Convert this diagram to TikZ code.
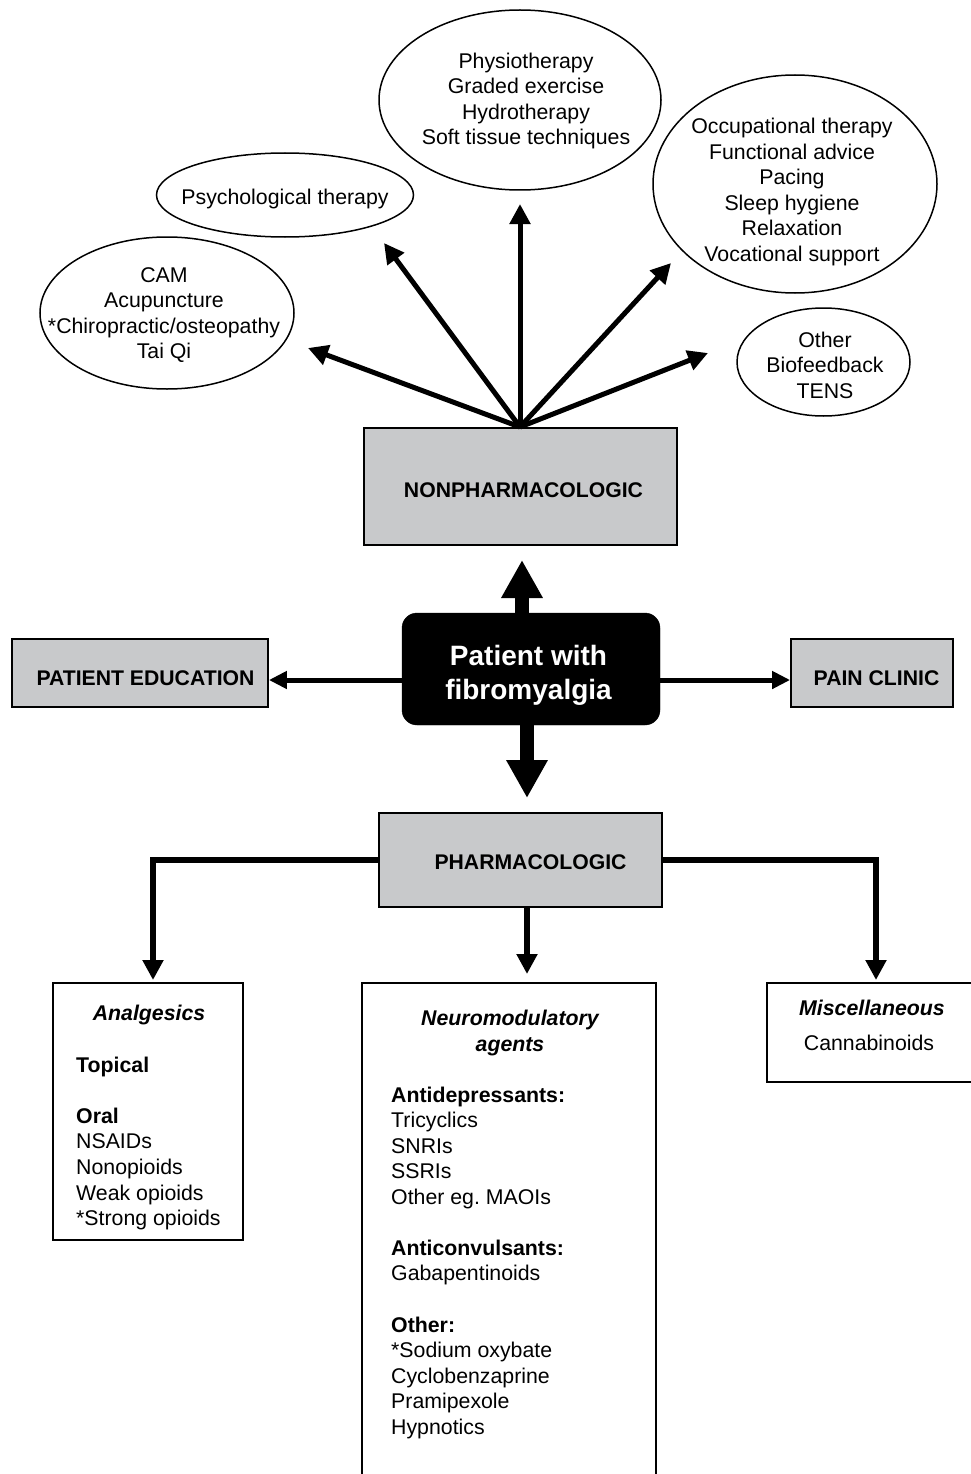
\documentclass[tikz,border=0pt]{standalone}
\usepackage{fontspec}
\setmainfont{Liberation Sans}
\usetikzlibrary{arrows.meta,shapes.geometric}
\definecolor{boxgray}{RGB}{200,201,203}
\newcommand\fsN{\fontsize{21.3}{25.6}\selectfont}
\newcommand\fsB{\fontsize{21.2}{24}\selectfont\bfseries}
\newcommand\fsC{\fontsize{28}{34}\selectfont\bfseries}
\begin{document}
\begin{tikzpicture}[x=1pt,y=-1pt,
  ell/.style={draw, line width=1.5pt, ellipse, inner sep=0pt},
  etext/.style={align=center, font=\fsN, inner sep=0pt},
  gbox/.style={draw, line width=1.8pt, fill=boxgray, inner sep=0pt},
  wbox/.style={draw, line width=1.8pt, inner sep=0pt},
  blabel/.style={inner sep=0pt, font=\fsB},
  lst/.style={anchor=base west, inner sep=0pt, font=\fsN},
  lstb/.style={anchor=base west, inner sep=0pt, font=\fsN\bfseries},
  ttl/.style={anchor=base, inner sep=0pt, font=\fsN\bfseries\itshape},
  fan/.style={line width=5pt, -{Triangle[length=20pt,width=20pt]}},
  side/.style={line width=5pt, -{Triangle[length=18pt,width=17pt]}},
  bigarrow/.style={line width=14pt, -{Triangle[length=38pt,width=39pt]}},
  tree/.style={line width=5.5pt, line join=miter, -{Triangle[length=20pt,width=20pt]}},
]
\useasboundingbox (0,0) rectangle (971,1474);
\fill[white] (0,0) rectangle (971,1474);

% ---------- ellipses ----------
\node[ell, minimum width=254pt, minimum height=152pt] (camE) at (167,313) {};
\node[etext] (cam) at (164,315) {CAM\\Acupuncture\\*Chiropractic/osteopathy\\Tai Qi};
\node[ell, minimum width=257pt, minimum height=84pt] (psychE) at (285,195) {};
\node[etext] (psych) at (285,199) {Psychological therapy};
\node[ell, minimum width=282pt, minimum height=180pt] (physioE) at (520,100) {};
\node[etext] (physio) at (526,101) {Physiotherapy\\Graded exercise\\Hydrotherapy\\Soft tissue techniques};
\node[ell, minimum width=284pt, minimum height=218pt] (occE) at (795,184) {};
\node[etext] (occ) at (792,192) {Occupational therapy\\Functional advice\\Pacing\\Sleep hygiene\\Relaxation\\Vocational support};
\node[ell, minimum width=173pt, minimum height=108pt] (otherE) at (823.5,362) {};
\node[etext] (other) at (825,365) {Other\\Biofeedback\\TENS};

% ---------- boxes ----------
\node[gbox, minimum width=313pt, minimum height=117pt] (nonpharm) at (520.5,486.5) {};
\node[blabel] (nonpharmT) at (523.5,490) {NONPHARMACOLOGIC};
\node[draw, fill=black, rounded corners=15pt, minimum width=258pt, minimum height=112pt, inner sep=0pt] (patient) at (531,669) {};
\node[align=center, text=white, font=\fsC, inner sep=0pt] (patientT) at (528.5,675) {Patient with\\fibromyalgia};
\node[gbox, minimum width=256pt, minimum height=68pt] (edu) at (140,673) {};
\node[blabel] (eduT) at (145.5,678) {PATIENT EDUCATION};
\node[gbox, minimum width=162pt, minimum height=68pt] (pain) at (872,673) {};
\node[blabel] (painT) at (876.5,678) {PAIN CLINIC};
\node[gbox, minimum width=283pt, minimum height=94pt] (pharm) at (520.5,860) {};
\node[blabel] (pharmT) at (530.5,862) {PHARMACOLOGIC};

\node[wbox, minimum width=190pt, minimum height=257pt] (anal) at (148,1111.5) {};
\node[wbox, minimum width=294pt, minimum height=520pt] (neuro) at (509,1243) {};
\node[wbox, minimum width=220pt, minimum height=99pt] (misc) at (877,1032.5) {};

% ---------- box texts ----------
\node[ttl] (analT) at (149,1020) {Analgesics};
\node[lstb] (a1) at (76,1072) {Topical};
\node[lstb] (a2) at (76,1123) {Oral};
\node[lst] (a3) at (76,1148) {NSAIDs};
\node[lst] (a4) at (76,1174) {Nonopioids};
\node[lst] (a5) at (76,1200) {Weak opioids};
\node[lst] (a6) at (76,1225) {*Strong opioids};

\node[ttl] (neuroT1) at (510,1025) {Neuromodulatory};
\node[ttl] (neuroT2) at (510,1051) {agents};
\node[lstb] (n1) at (391,1102) {Antidepressants:};
\node[lst] (n2) at (391,1127) {Tricyclics};
\node[lst] (n3) at (391,1153) {SNRIs};
\node[lst] (n4) at (391,1178) {SSRIs};
\node[lst] (n5) at (391,1204) {Other eg.\ MAOIs};
\node[lstb] (n6) at (391,1255) {Anticonvulsants:};
\node[lst] (n7) at (391,1280) {Gabapentinoids};
\node[lstb] (n8) at (391,1332) {Other:};
\node[lst] (n9) at (391,1357) {*Sodium oxybate};
\node[lst] (n10) at (391,1383) {Cyclobenzaprine};
\node[lst] (n11) at (391,1408) {Pramipexole};
\node[lst] (n12) at (391,1434) {Hypnotics};

\node[ttl] (miscT) at (872,1015) {Miscellaneous};
\node[anchor=base, inner sep=0pt, font=\fsN] (m1) at (869,1050) {Cannabinoids};

% ---------- fan arrows ----------
\coordinate (fanO) at (520,427);
\coordinate (tCam) at (308,348);
\coordinate (tPsych) at (384,243);
\coordinate (tPhys) at (520,204);
\coordinate (tOcc) at (671,263);
\coordinate (tOther) at (708,353);
\foreach \t in {tCam,tPsych,tPhys,tOcc,tOther}
  \draw[fan] (fanO) -- (\t);

% ---------- central arrows ----------
\coordinate (upTip) at (522,560);
\coordinate (downTip) at (527,798);
\draw[bigarrow] (upTip |- patient.north) -- (upTip);
\draw[bigarrow] (downTip |- patient.south) -- (downTip);
\draw[side] (patient.west |- 0,680) -- (edu.east |- 0,680);
\draw[side] (patient.east |- 0,680) -- (pain.west |- 0,680);

% ---------- tree ----------
\coordinate (tl) at (153,980);
\coordinate (tm) at (527,974);
\coordinate (tr) at (876,980);
\draw[tree] (pharm.west) -| (tl);
\draw[tree] (pharm.east) -| (tr);
\draw[tree] (tm |- pharm.south) -- (tm);
\end{tikzpicture}
\end{document}
